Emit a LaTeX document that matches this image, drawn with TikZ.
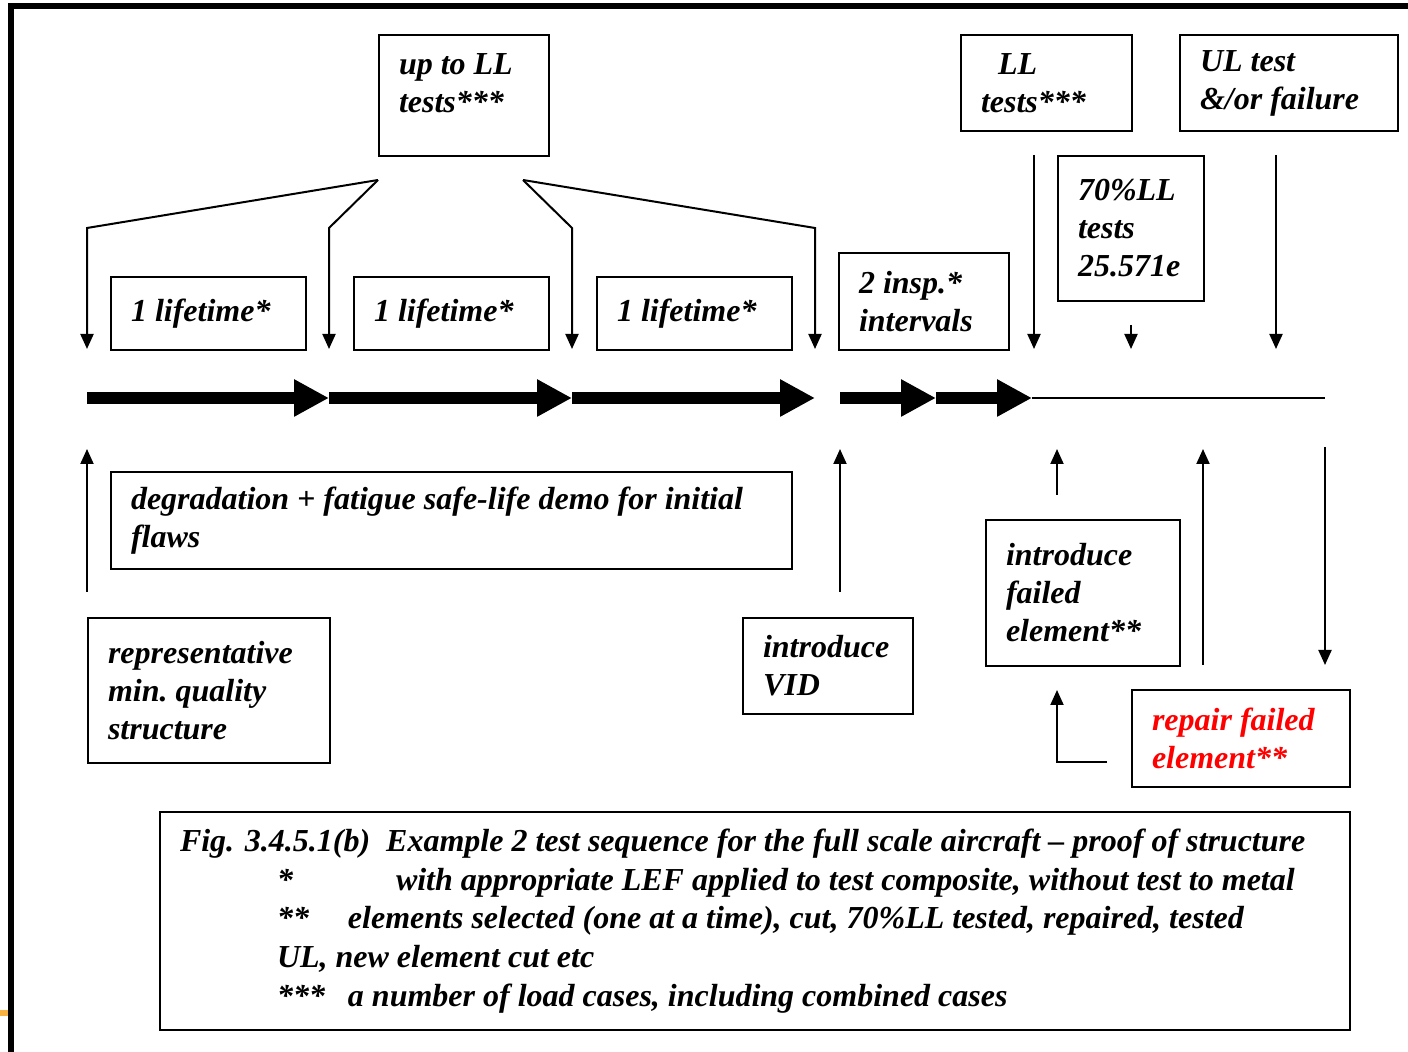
\documentclass[tikz,border=0pt]{standalone}
\usepackage{fontspec}
\setmainfont{Liberation Serif}
\usetikzlibrary{arrows.meta}

\definecolor{tickorange}{RGB}{248,176,64}

\begin{document}
\begin{tikzpicture}[x=0.5pt, y=-0.5pt,
    box/.style={draw, line width=1pt, anchor=north west, align=flush left, inner xsep=10pt, inner ysep=2pt,
                font=\fontsize{16}{19}\selectfont\bfseries\itshape},
    arr/.style={-{Triangle[width=6.5pt,length=7.5pt]}, line width=1pt},
    fat/.style={-{Triangle[width=17.5pt,length=17.5pt]}, line width=6pt}]
    \useasboundingbox (0,0) rectangle (1408,1052);
    % page frame
    \draw[line width=3pt, line join=miter] (1408,6) -- (11,6) -- (11,1052);
    \draw[tickorange, line width=3pt] (0,1013) -- (8,1013);

    % boxes
    \node[box, minimum width=85pt, minimum height=60.5pt, text width=65pt] (upll) at (378,34) {up to LL\\tests***\\[-6.5pt]\mbox{}};
    \node[box, minimum width=85.5pt, minimum height=48pt, text width=65.5pt] (ll) at (960,34) {\hspace*{8.5pt}LL\\tests***};
    \node[box, minimum width=109pt, minimum height=48pt, text width=89pt] (ul) at (1179,34) {UL test\\\&/or failure};
    \node[box, minimum width=73pt, minimum height=72.5pt, text width=53pt] (sev) at (1057,155) {70\%LL\\tests\\25.571e};
    \foreach \i/\x in {1/110,2/353,3/596}
        \node[box, minimum width=97.5pt, minimum height=36.5pt, text width=77.5pt] (life\i) at (\x,276) {1 lifetime*};
    \node[box, minimum width=85pt, minimum height=48.5pt, text width=65pt] (insp) at (838,252) {2 insp.*\\intervals};
    \node[box, minimum width=340.5pt, minimum height=48.5pt, text width=320.5pt] (degr) at (110,471) {degradation + fatigue safe-life demo for initial\\flaws};
    \node[box, minimum width=121pt, minimum height=72.5pt, text width=101pt] (repr) at (87,617) {representative\\min.\ quality\\structure};
    \node[box, minimum width=85pt, minimum height=48pt, text width=65pt] (vid) at (742,617) {introduce\\VID};
    \node[box, minimum width=97pt, minimum height=73pt, text width=77pt] (fail) at (985,519) {introduce\\failed\\element**};
    \node[box, minimum width=109pt, minimum height=48.5pt, text width=89pt, text=red] (rep) at (1131,689) {repair failed\\element**};
    \node[box, minimum width=595pt, minimum height=109pt, text width=575pt,
          font=\fontsize{16}{19.3}\selectfont\bfseries\itshape] (cap) at (159,811)
        {Fig. 3.4.5.1(b)\ \ Example 2 test sequence for the full scale aircraft -- proof of structure\\
         \hspace*{48.5pt}\makebox[59.5pt][l]{*}with appropriate LEF applied to test composite, without test to metal\\
         \hspace*{48.5pt}\makebox[35.5pt][l]{**}elements selected (one at a time), cut, 70\%LL tested, repaired, tested\\
         \hspace*{48.5pt}UL, new element cut etc\\
         \hspace*{48.5pt}\makebox[35.5pt][l]{***}a number of load cases, including combined cases};

    % time line
    \foreach \n/\x in {0/87,1/329,2/572,3/815,4/840,5/936,6/1032,7/1325}
        \coordinate (t\n) at (\x,398);
    \foreach \a/\b in {0/1,1/2,2/3,4/5,5/6}
        \draw[fat] (t\a) -- (t\b);
    \draw[line width=1pt] (t6) -- (t7);

    % load test fan
    \coordinate (fl) at (378,180);
    \coordinate (fr) at (523,180);
    \foreach \x/\s in {87/fl,329/fl,572/fr,815/fr}
        \draw[arr] (\s) -- (\x,228) -- (\x,349);

    % vertical arrows
    \foreach \n/\x/\ya/\yb in {a/1034/155/349, b/1131/325/349, c/1276/155/349,
                               d/87/592/449, e/840/592/449, f/1057/495/449,
                               g/1203/665/449, h/1325/447/665} {
        \coordinate (\n0) at (\x,\ya);
        \coordinate (\n1) at (\x,\yb);
        \draw[arr] (\n0) -- (\n1);
    }
    \coordinate (lr) at (1107,762);
    \coordinate (lu) at (1057,690);
    \draw[arr] (lr) -| (lu);
\end{tikzpicture}
\end{document}
